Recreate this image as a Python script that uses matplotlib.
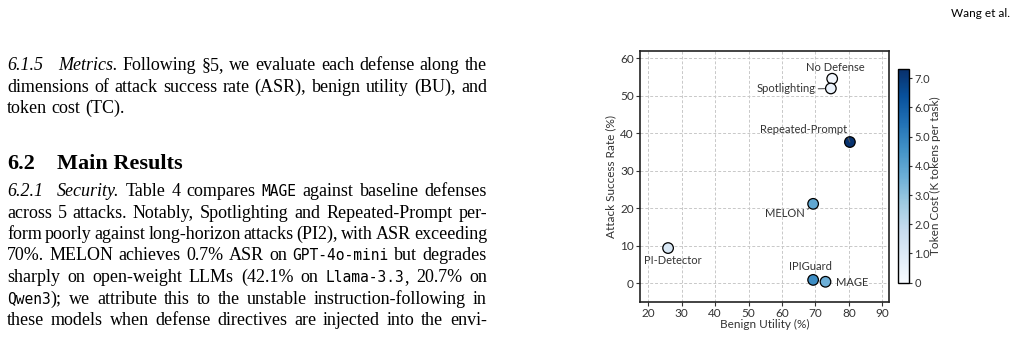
import matplotlib
matplotlib.use("Agg")
from matplotlib import pyplot as plt
from matplotlib.colors import Normalize

W, H = 1021, 339

# chart data
defenses = ["No Defense", "Spotlighting", "Repeated-Prompt", "MELON",
            "PI-Detector", "IPIGuard", "MAGE"]
utility = [75.0, 74.6, 80.3, 69.3, 25.9, 69.3, 73.0]
asr = [54.6, 52.0, 37.7, 21.2, 9.4, 0.9, 0.4]
token_cost = [0.2, 0.5, 7.2, 3.9, 1.1, 4.7, 3.6]
cbar_ticks = [0, 1, 2, 3, 4, 5, 6, 7]
cbar_labels = ["0", "1.0", "2.0", "3.0", "4.0", "5.0", "6.0", "7.0"]

# where each point's name goes: text xy, alignment, leader-line anchor (None = no line)
label_pos = {
    "No Defense": ((76.0, 57.6), "center", None),
    "Spotlighting": ((70.0, 51.9), "right", (1.0, 0.5)),
    "Repeated-Prompt": ((66.4, 41.0), "center", (1.0, 0.0)),
    "MELON": ((60.9, 18.7), "center", (1.0, 0.6)),
    "PI-Detector": ((27.2, 6.0), "center", None),
    "IPIGuard": ((68.4, 4.4), "center", None),
    "MAGE": ((76.0, 0.2), "left", None),
}

# page text around the figure
header = "Wang et al."
para1 = ["*Metrics.* Following §5, we evaluate each defense along the",
         "dimensions of attack success rate (ASR), benign utility (BU), and",
         "token cost (TC)."]
heading = ("6.2", "Main Results")
para2 = ["*Security.* Table 4 compares `MAGE` against baseline defenses",
         "across 5 attacks. Notably, Spotlighting and Repeated-Prompt per-",
         "form poorly against long-horizon attacks (PI2), with ASR exceeding",
         "70%. MELON achieves 0.7% ASR on `GPT-4o-mini` but degrades",
         "sharply on open-weight LLMs (42.1% on `Llama-3.3`, 20.7% on",
         "`Qwen3`); we attribute this to the unstable instruction-following in",
         "these models when defense directives are injected into the envi-"]

INK = "#333333"
plt.rcParams["font.family"] = ["Lato", "DejaVu Sans"]
plt.rcParams["font.size"] = 8.5

fig = plt.figure(figsize=(W / 100, H / 100), dpi=100)
renderer = fig.canvas.get_renderer()

STYLES = {
    "r": dict(family="Liberation Serif", size=13),
    "i": dict(family="Liberation Serif", size=13, style="italic"),
    "m": dict(family="DejaVu Sans Mono", size=10.5),
    "b": dict(family="Liberation Serif", size=16, weight="bold"),
}


def text_w(s, st):
    t = fig.text(0, 0, s, **STYLES[st])
    w = t.get_window_extent(renderer).width
    t.remove()
    return w


space_w = text_w("a a", "r") - text_w("aa", "r")


def split_pieces(word, state):
    out, buf = [], ""
    for ch in word:
        if ch in "*`":
            if buf:
                out.append((buf, state))
                buf = ""
            mark = "i" if ch == "*" else "m"
            state = "r" if state == mark else mark
        else:
            buf += ch
    if buf:
        out.append((buf, state))
    return out, state


def put_line(x0, x1, base, line, justify=True):
    state = "r"
    words = []
    for w in line.split(" "):
        pcs, state = split_pieces(w, state)
        objs = []
        for s, st in pcs:
            t = fig.text(0, 0, s, va="baseline", ha="left", color="black", **STYLES[st])
            objs.append((t, t.get_window_extent(renderer).width))
        words.append(objs)
    widths = [sum(w for _, w in o) for o in words]
    gap = space_w
    if justify and len(words) > 1:
        gap = (x1 - x0 - sum(widths)) / (len(words) - 1)
    x = x0
    for objs, ws in zip(words, widths):
        xx = x
        for t, w in objs:
            t.set_position((xx / W, 1 - base / H))
            xx += w
        x += ws + gap


def put(x, base, s, st, **kw):
    fig.text(x / W, 1 - base / H, s, va="baseline", color="black", **STYLES[st], **kw)


LEFT, RIGHT, STEP = 7, 487, 21.5

# header
fig.text(1010 / W, 1 - 17 / H, header, ha="right", va="baseline",
         family=["Lato", "DejaVu Sans"], size=8.5, color="black")

# 6.1.5 paragraph
put(LEFT, 70, "6.1.5", "i")
put_line(58, RIGHT, 70, para1[0])
put_line(LEFT, RIGHT, 70 + STEP, para1[1])
put_line(LEFT, RIGHT, 70 + 2 * STEP, para1[2], justify=False)

# 6.2 heading
put(LEFT, 169, heading[0], "b")
put(57, 169, heading[1], "b")

# 6.2.1 paragraph
put(LEFT, 196, "6.2.1", "i")
put_line(57, RIGHT, 196, para2[0])
for k, line in enumerate(para2[1:], start=1):
    put_line(LEFT, RIGHT, 196 + k * STEP, line)

# scatter chart
ax = fig.add_axes([640 / W, 1 - 302 / H, 249 / W, 251 / H])
cax = fig.add_axes([898 / W, 1 - 282.7 / H, 11 / W, 213.4 / H])

norm = Normalize(vmin=0, vmax=7.3)
sc = ax.scatter(utility, asr, c=token_cost, cmap="Blues", norm=norm, s=58,
                edgecolors="black", linewidths=0.9, zorder=3)

for name, x, y in zip(defenses, utility, asr):
    (tx, ty), ha, rel = label_pos[name]
    if rel is None:
        ax.text(tx, ty, name, ha=ha, va="center", color=INK, fontsize=8)
    else:
        ax.annotate(name, xy=(x, y), xytext=(tx, ty), ha=ha, va="center",
                    color=INK, fontsize=8,
                    arrowprops=dict(arrowstyle="-", color="#555555", lw=0.8,
                                    relpos=rel, shrinkA=0, shrinkB=4.5))

ax.set_xlim(17.5, 92)
ax.set_ylim(-5, 62)
ax.set_xticks(range(20, 91, 10))
ax.set_yticks(range(0, 61, 10))
ax.set_axisbelow(True)
ax.grid(True, color="#c8c8c8", linestyle=(0, (3, 2)), linewidth=0.7)
for sp in ax.spines.values():
    sp.set_color("#222222")
    sp.set_linewidth(1.2)
ax.tick_params(direction="out", length=3, width=0.8, colors=INK, labelsize=8.5, pad=1.5)
ax.set_xlabel("Benign Utility (%)", color=INK, fontsize=8.5, labelpad=0)
ax.set_ylabel("Attack Success Rate (%)", color=INK, fontsize=8.5, labelpad=3)

cb = fig.colorbar(sc, cax=cax)
cb.set_ticks(cbar_ticks)
cb.set_ticklabels(cbar_labels)
cb.outline.set_edgecolor("black")
cb.outline.set_linewidth(1.0)
cax.tick_params(length=2.5, width=0.8, colors=INK, labelsize=8, pad=1.5)
cb.set_label("Token Cost (K tokens per task)", color=INK, fontsize=8.5, labelpad=-0.5)

fig.savefig("out.png", dpi=100)
